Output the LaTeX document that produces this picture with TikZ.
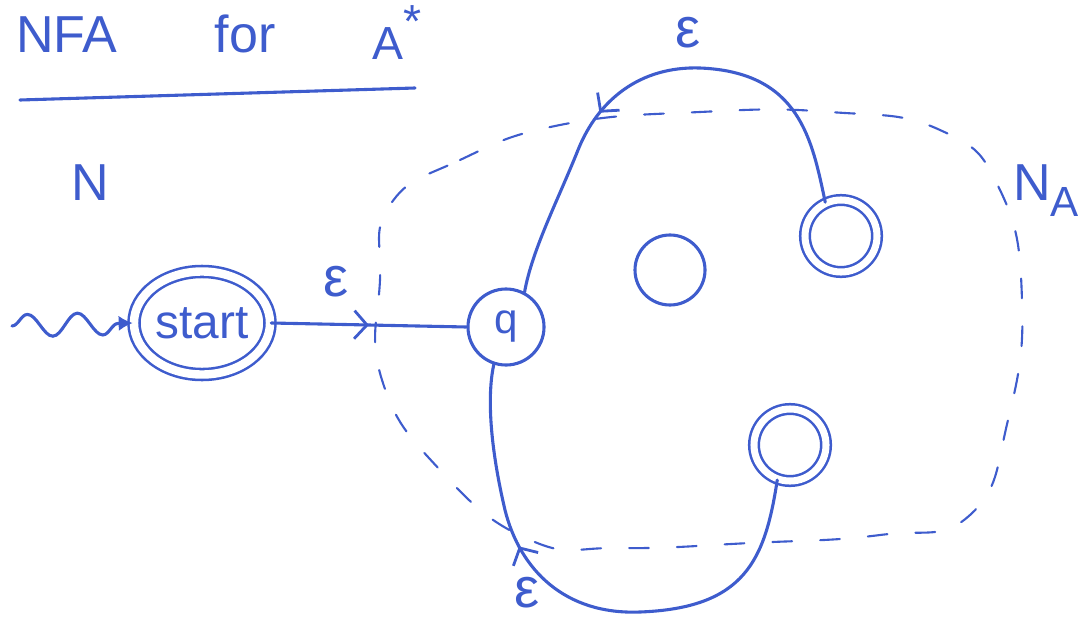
\documentclass[tikz,border=0pt]{standalone}
\usepackage{fontspec}
\setmainfont{Liberation Sans}
\usetikzlibrary{arrows.meta, positioning, shapes.geometric, decorations.pathmorphing, decorations.markings}
\definecolor{penblue}{RGB}{62,92,205}

\begin{document}
\begin{tikzpicture}[
    x=0.025cm, y=-0.025cm,
    pen/.style={draw=penblue, line width=2.2pt, line cap=round},
    circ/.style={circle, pen, inner sep=0pt, minimum size=#1, text=penblue,
                 font=\fontsize{30}{34}\selectfont},
    accept/.style={circ=#1, double=white, double distance=5pt, line width=1.8pt},
    hand/.style={text=penblue, inner sep=0pt, font=\fontsize{37}{42}\selectfont},
    eps/.style={text=penblue, inner sep=0pt, font=\fontsize{40}{44}\selectfont},
    midarrow/.style={postaction={decorate}, decoration={markings,
        mark=at position #1 with {\arrow[penblue]{Straight Barb[length=9pt, width=20pt, line width=2pt]}}}},
    region/.style={draw=penblue, line width=1.5pt, line cap=round, dash pattern=on 14pt off 20pt},
]
\useasboundingbox (0,0) rectangle (1083,624);

% Title
\node[hand, anchor=base] (nfa) at (67,53) {NFA};
\node[hand, anchor=base] (for) at (245,53) {for};
\node[hand, anchor=base, font=\fontsize{33}{38}\selectfont] (astar) at (397,60) {A\raisebox{16pt}{*}};
\draw[pen] (20,100) -- (415,88);

% Automaton labels
\node[hand, anchor=base] (nlabel) at (90,200) {N};
\node[hand, anchor=base west] (nalabel) at (1013,200) {N\raisebox{-12pt}{\fontsize{30}{34}\selectfont A}};

% The automaton N_A
\draw[region] plot[smooth cycle, tension=0.8] coordinates {
    (390,205) (460,160) (560,125) (700,112) (830,112) (940,130) (1000,190)
    (1022,300) (1008,420) (970,515) (880,535) (750,543) (620,548) (530,540)
    (440,470) (382,380) (380,280)};

% States
\node[ellipse, pen, double=white, double distance=6pt, line width=1.8pt,
      minimum width=3.4cm, minimum height=2.575cm, inner sep=0pt,
      text=penblue, font=\fontsize{34}{38}\selectfont] (start) at (202,323) {start};
\node[circ=1.9cm] (q) at (506,327) {q};
\node[circ=1.75cm] (s1) at (670,270) {};
\node[accept=1.8cm] (f1) at (841,236) {};
\node[accept=1.8cm] (f2) at (790,445) {};

% Entry arrow
\coordinate (in) at (12,326);
\draw[pen, decorate, decoration={snake, amplitude=0.28cm, segment length=1.25cm, post length=0.3cm},
      -{Latex[length=10pt, width=11pt]}] (in) -- (start.west);

% Epsilon moves
\draw[pen, midarrow=0.5] (start.east) -- (q.west) node[eps, pos=0.33, above=18pt] {ε};
\draw[pen, midarrow=0.62] (f1.115) .. controls (812,140) and (800,72) .. (700,68)
    .. controls (640,66) and (598,100) .. (578,150) .. controls (558,200) and (532,250) .. (q.62);
\draw[pen, midarrow=0.66] (f2.250) .. controls (765,560) and (745,608) .. (640,612)
    .. controls (565,615) and (520,570) .. (505,510) .. controls (492,455) and (486,400) .. (q.252);
\node[eps] (etop) at (688,33) {ε};
\node[eps] (ebot) at (527,593) {ε};

\end{tikzpicture}
\end{document}
